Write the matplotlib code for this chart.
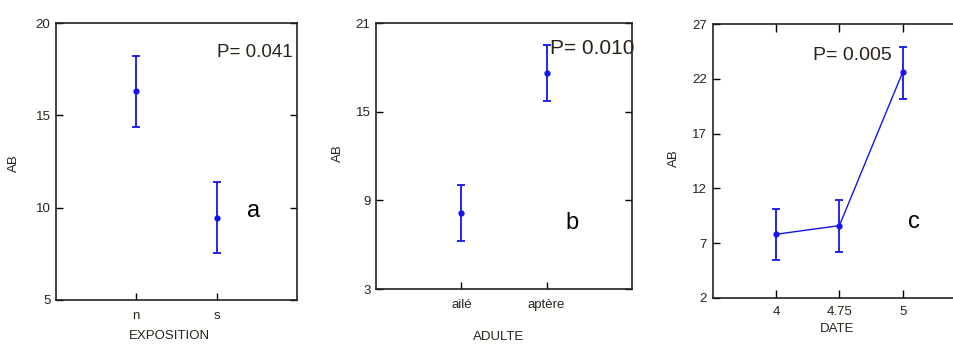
import matplotlib
matplotlib.use("Agg")
import matplotlib.pyplot as plt

plt.rcParams['font.family'] = ['Liberation Sans', 'DejaVu Sans']

# panel a : EXPOSITION
expo_labels = ['n', 's']
expo_mean = [16.33, 9.46]
expo_low = [14.35, 7.53]
expo_high = [18.23, 11.4]

# panel b : ADULTE
adulte_labels = ['ailé', 'aptère']
adulte_mean = [8.17, 17.65]
adulte_low = [6.22, 15.74]
adulte_high = [10.06, 19.54]

# panel c : DATE
date_labels = ['4', '4.75', '5']
date_mean = [7.8, 8.59, 22.62]
date_low = [5.45, 6.15, 20.15]
date_high = [10.14, 10.91, 24.9]

W, H = 954, 346
blue = '#1414f0'
txt = '#2a2218'

fig = plt.figure(figsize=(W / 100, H / 100), dpi=100)


def px_axes(left, right, top, bottom):
    return fig.add_axes([left / W, (H - bottom) / H, (right - left) / W, (bottom - top) / H])


def draw(ax, labels, mean, low, high, line=False):
    x = list(range(1, len(labels) + 1))
    err = [[m - l for m, l in zip(mean, low)], [h - m for m, h in zip(mean, high)]]
    ax.errorbar(x, mean, yerr=err, fmt='o', color=blue, ms=3.5, elinewidth=1.3,
                capsize=3, capthick=1.3, ls='-' if line else 'none', lw=1.0)
    ax.set_xticks(x)
    ax.set_xticklabels(labels)
    for s in ax.spines.values():
        s.set_linewidth(1.2)
        s.set_color('#222222')


ax1 = px_axes(56, 297, 23, 300)
draw(ax1, expo_labels, expo_mean, expo_low, expo_high)
ax1.set_xlim(0, 3)
ax1.set_ylim(5, 20)
ax1.set_yticks([5, 10, 15, 20])
ax1.tick_params(direction='in', length=5, width=1, right=True, labelsize=9.5,
                labelcolor=txt, pad=4)
ax1.tick_params(axis='x', pad=7)
ax1.set_xlabel('EXPOSITION', fontsize=9.5, color=txt)
ax1.xaxis.set_label_coords(0.469, -0.11)
ax1.set_ylabel('AB', fontsize=9.5, color=txt)
ax1.yaxis.set_label_coords(-0.149, 0.495)
ax1.text(2.0, 18.17, 'P= 0.041', fontsize=13.5, color=txt, va='baseline')
ax1.text(2.46, 9.49, 'a', fontsize=17, ha='center', va='baseline')

ax2 = px_axes(376, 632, 23, 289)
draw(ax2, adulte_labels, adulte_mean, adulte_low, adulte_high)
ax2.set_xlim(0, 3)
ax2.set_ylim(3, 21)
ax2.set_yticks([3, 9, 15, 21])
ax2.tick_params(direction='in', length=5, width=1, right=True, labelsize=9.5,
                labelcolor=txt, pad=4)
ax2.tick_params(axis='x', pad=7)
ax2.set_xlabel('ADULTE', fontsize=9.5, color=txt)
ax2.xaxis.set_label_coords(0.48, -0.158)
ax2.set_ylabel('AB', fontsize=9.5, color=txt)
ax2.yaxis.set_label_coords(-0.125, 0.511)
ax2.text(2.04, 18.89, 'P= 0.010', fontsize=15, color=txt, va='baseline')
ax2.text(2.30, 7.09, 'b', fontsize=17, ha='center', va='baseline')

ax3 = px_axes(712.7, 966, 24.3, 297.7)
draw(ax3, date_labels, date_mean, date_low, date_high, line=True)
ax3.set_xlim(0, 4)
ax3.set_ylim(2, 27)
ax3.set_yticks([2, 7, 12, 17, 22, 27])
ax3.tick_params(direction='in', length=5, width=1, right=True, top=True,
                labelsize=9.5, labelcolor=txt, pad=4)
ax3.tick_params(axis='x', pad=6)
ax3.tick_params(axis='x', which='major', length=6)
ax3.set_xlabel('DATE', fontsize=9.5, color=txt)
ax3.xaxis.set_label_coords(0.491, -0.091)
ax3.set_ylabel('AB', fontsize=9.5, color=txt)
ax3.yaxis.set_label_coords(-0.129, 0.511)
ax3.text(1.58, 23.75, 'P= 0.005', fontsize=14, color=txt, va='baseline')
ax3.text(3.18, 8.35, 'c', fontsize=17, ha='center', va='baseline')

fig.savefig('out.png', dpi=100)
